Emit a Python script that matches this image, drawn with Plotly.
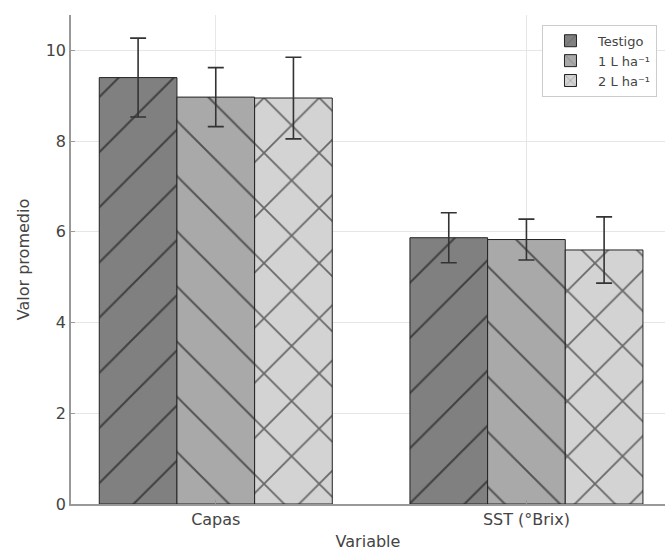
import plotly.graph_objects as go

categories = ["Capas", "SST (°Brix)"]
series_names = ["Testigo", "1 L ha⁻¹", "2 L ha⁻¹"]
testigo_vals = [9.40, 5.87]
testigo_err = [0.87, 0.55]
l1_vals = [8.97, 5.83]
l1_err = [0.65, 0.45]
l2_vals = [8.95, 5.60]
l2_err = [0.90, 0.73]
y_ticks = [0, 2, 4, 6, 8, 10]

colors = ["#808080", "#a9a9a9", "#d3d3d3"]
shapes = ["/", "\\", "x"]
solids = [0.05, 0.05, 0.09]

fig = go.Figure()
for name, vals, errs, col, shp, sol in zip(series_names,
                                           [testigo_vals, l1_vals, l2_vals],
                                           [testigo_err, l1_err, l2_err],
                                           colors, shapes, solids):
    fig.add_trace(go.Bar(
        x=categories, y=vals, name=name,
        marker=dict(color=col, line=dict(color="#222", width=1),
                    pattern=dict(shape=shp, fgcolor="#000", size=39, solidity=sol)),
        error_y=dict(type="data", array=errs, visible=True, color="#333",
                     thickness=1.6, width=8),
    ))

fig.update_layout(
    width=665, height=555,
    margin=dict(l=71, r=0, t=15, b=51),
    paper_bgcolor="white", plot_bgcolor="white",
    barmode="group", bargap=0.25, bargroupgap=0,
    font=dict(family="DejaVu Sans", color="#444", size=16),
    showlegend=True,
    legend=dict(x=0.9865, y=0.98, xanchor="right", yanchor="top",
                bgcolor="white", bordercolor="#cccccc", borderwidth=1,
                font=dict(size=13, color="#444"), tracegroupgap=0,
                itemwidth=45),
)
fig.update_xaxes(
    range=[-0.466, 1.446], showgrid=True, gridcolor="#e6e6e6", gridwidth=1,
    showline=True, linecolor="#999", linewidth=1.5,
    ticks="inside", ticklen=4, tickcolor="#999",
    title=dict(text="Variable", font=dict(size=16, color="#444"), standoff=8),
    tickfont=dict(size=16, color="#444"),
)
fig.update_yaxes(
    range=[0, 10.78], tickvals=y_ticks, showgrid=True, gridcolor="#e6e6e6",
    gridwidth=1, showline=True, linecolor="#999", linewidth=1.5,
    ticks="inside", ticklen=4, tickcolor="#999", zeroline=False,
    title=dict(text="Valor promedio", font=dict(size=16, color="#444"), standoff=12),
    tickfont=dict(size=16, color="#444"),
)

fig.write_html("out.html")
